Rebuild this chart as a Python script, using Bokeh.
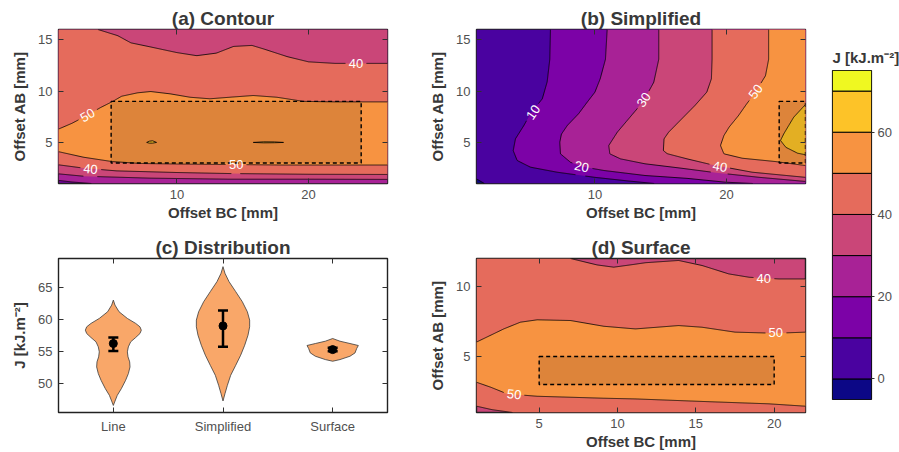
import numpy as np
from bokeh.core.properties import value
from bokeh.embed import file_html
from bokeh.layouts import column, row
from bokeh.models import (ColumnDataSource, CustomJSTickFormatter, FixedTicker, LinearAxis,
                          Range1d, TeeHead, Whisker)
from bokeh.palettes import Plasma9
from bokeh.plotting import figure
from bokeh.resources import INLINE

FONT = "Liberation Sans"
INK = "#383838"
TICK_INK = "#505050"

# J levels [kJ.m-2]; band k spans levels[k] .. levels[k + 1]
levels = [-5, 0, 10, 20, 30, 40, 50, 60, 70, 75]
band_colors = list(Plasma9)
cbar_ticks = [0, 20, 40, 60]

# ---------------- (a) Contour: level curves over Offset BC / Offset AB ----------------
a_c20_x = [1.0, 2.0, 3.5]
a_c20_y = [1.3, 1.15, 1.0]
a_c30_x = [1.0, 2.9, 8.0, 14.0, 20.0, 26.0]
a_c30_y = [1.94, 1.71, 1.52, 1.42, 1.42, 1.4]
a_c40_lo_x = [1.0, 2.9, 5.4, 10.0, 14.0, 20.0, 26.0]
a_c40_lo_y = [2.82, 2.5, 2.23, 2.07, 1.97, 1.9, 1.88]
a_c40_hi_x = [4.0, 5.5, 6.5, 8.0, 10.0, 11.5, 13.0, 14.3, 15.7, 16.6, 18.4, 20.0, 22.0, 26.0]
a_c40_hi_y = [16.0, 15.4, 14.7, 14.3, 13.75, 13.45, 13.7, 14.35, 14.45, 14.1, 13.35, 12.85, 12.7, 12.7]
a_c50_lo_x = [1.0, 2.9, 5.0, 7.2, 10.0, 14.0, 18.0, 22.0, 26.0]
a_c50_lo_y = [4.1, 3.56, 3.15, 2.95, 2.9, 2.85, 2.8, 2.8, 2.8]
a_c50_hi_x = [1.0, 2.0, 2.9, 4.2, 5.1, 5.8, 7.0, 8.0, 9.5, 11.0, 12.5, 14.0, 15.8, 17.6, 19.6, 22.0, 26.0]
a_c50_hi_y = [6.3, 6.85, 7.45, 8.4, 8.98, 9.5, 9.83, 9.96, 9.73, 9.4, 9.25, 9.4, 9.57, 9.4, 9.0, 8.95, 8.95]
a_c60_1_x = [7.7, 7.9, 8.15, 8.45, 8.15, 7.9, 7.7]
a_c60_1_y = [5.0, 5.12, 5.16, 5.0, 4.93, 4.93, 5.0]
a_c60_2_x = [15.8, 16.6, 17.4, 18.1, 17.4, 16.6, 15.8]
a_c60_2_y = [5.0, 5.06, 5.05, 5.0, 4.97, 4.96, 5.0]
a_box = [5, 24, 3, 9]  # left, right, bottom, top
a_lab_text = ["40", "50", "40", "50"]
a_lab_x = [23.6, 3.2, 3.43, 14.5]
a_lab_y = [12.7, 7.65, 2.42, 2.85]
a_lab_angle = [0, 30, -5, 0]

# ---------------- (b) Simplified ----------------
b_c0_x = [1.0, 1.6]
b_c0_y = [1.45, 1.0]
b_c10_x = [6.62, 6.57, 6.37, 6.0, 5.1, 4.6, 3.96, 3.79, 4.09, 5.1, 7.13, 9.99, 12.5, 14.5]
b_c10_y = [16.0, 13.1, 10.9, 9.25, 7.8, 6.65, 5.35, 4.2, 3.24, 2.59, 2.1, 1.6, 1.25, 1.0]
b_c20_x = [10.93, 10.8, 10.4, 10.0, 9.4, 8.76, 7.9, 7.45, 7.33, 7.38, 8.14, 9.0, 10.67, 13.8, 17.0, 19.9, 22.0]
b_c20_y = [16.0, 13.1, 11.2, 9.9, 8.9, 7.8, 6.65, 5.8, 5.02, 3.89, 3.07, 2.65, 2.27, 1.78, 1.5, 1.13, 1.0]
b_c30_x = [14.85, 14.85, 14.47, 13.84, 13.2, 11.7, 11.05, 11.13, 11.94, 13.8, 16.5, 19.2, 22.5, 26.0]
b_c30_y = [16.0, 13.1, 10.86, 9.4, 8.27, 6.0, 4.7, 3.89, 3.4, 2.92, 2.5, 2.05, 1.6, 1.2]
b_c40_x = [18.9, 18.9, 18.85, 18.5, 17.6, 16.6, 15.6, 15.25, 15.2, 15.5, 17.0, 18.9, 21.95, 26.0]
b_c40_y = [16.0, 13.1, 11.2, 9.9, 8.6, 7.3, 6.0, 5.35, 4.2, 3.9, 3.4, 2.82, 2.1, 1.6]
b_c50_x = [23.2, 23.2, 22.96, 22.2, 21.5, 20.9, 20.2, 19.8, 19.54, 19.8, 21.2, 23.7, 26.0]
b_c50_y = [16.0, 13.1, 11.5, 9.9, 8.7, 7.6, 6.5, 5.67, 4.7, 3.89, 3.46, 3.14, 2.75]
b_c60_x = [26.0, 25.1, 24.35, 24.1, 24.5, 25.4, 26.0]
b_c60_y = [8.7, 7.45, 5.84, 5.19, 4.53, 3.95, 3.8]
b_box = [24, 26, 3, 9]
b_lab_text = ["10", "20", "30", "40", "50"]
b_lab_x = [5.3, 9.0, 13.7, 19.5, 22.2]
b_lab_y = [7.95, 2.65, 9.15, 2.65, 9.95]
b_lab_angle = [55, -12, 57, -10, 54]

# ---------------- (c) Distribution ----------------
categories = ["Line", "Simplified", "Surface"]
line_j = [63.02, 62.24, 61.2, 60.16, 59.38, 58.85, 58.33, 57.81, 57.19, 56.51, 55.73, 54.95,
          54.17, 53.39, 52.6, 51.56, 50.52, 49.22, 48.18, 47.14, 46.6]
line_w = [0.0, 0.015, 0.052, 0.128, 0.204, 0.243, 0.255, 0.243, 0.204, 0.158, 0.137, 0.128,
          0.134, 0.149, 0.152, 0.137, 0.112, 0.073, 0.036, 0.012, 0.0]
simp_j = [68.23, 67.19, 65.89, 64.33, 62.77, 61.2, 59.9, 58.85, 57.55, 55.99, 54.43, 52.86,
          51.3, 49.74, 48.44, 47.3]
simp_w = [0.0, 0.018, 0.055, 0.116, 0.176, 0.222, 0.243, 0.243, 0.228, 0.198, 0.161, 0.116,
          0.07, 0.04, 0.018, 0.0]
surf_j = [57.03, 56.61, 56.25, 55.94, 55.47, 54.79, 54.27, 53.75, 53.49]
surf_w = [0.0, 0.067, 0.158, 0.234, 0.219, 0.204, 0.158, 0.067, 0.0]
j_mean = [56.25, 59.0, 55.3]
j_low = [55.1, 55.75, 55.05]
j_high = [57.2, 61.4, 55.6]

# ---------------- (d) Surface ----------------
d_c40_lo_x = [1.0, 2.0, 3.3]
d_c40_lo_y = [1.45, 1.2, 1.0]
d_c40_hi_x = [7.0, 8.7, 9.76, 10.8, 11.8, 13.9, 15.4, 17.1, 18.4, 20.3, 22.0]
d_c40_hi_y = [12.0, 11.54, 11.38, 11.54, 11.7, 11.86, 11.5, 10.9, 10.66, 10.54, 10.54]
d_c50_lo_x = [1.0, 1.9, 2.96, 4.87, 7.0, 9.1, 11.15, 15.4, 19.65, 22.0]
d_c50_lo_y = [3.16, 2.81, 2.33, 2.16, 2.09, 2.02, 1.97, 1.79, 1.62, 1.45]
d_c50_hi_x = [1.0, 2.74, 3.8, 4.87, 7.0, 9.12, 10.6, 11.15, 13.9, 15.4, 17.5, 20.1, 22.0]
d_c50_hi_y = [6.03, 6.97, 7.45, 7.62, 7.57, 7.16, 7.02, 6.97, 7.21, 7.09, 6.74, 6.66, 6.74]
d_box = [5, 20, 3, 5]
d_lab_text = ["40", "50", "50"]
d_lab_x = [19.33, 20.1, 3.4]
d_lab_y = [10.55, 6.7, 2.3]
d_lab_angle = [0, 0, -6]


def band(lo):
    return band_colors[levels.index(lo)]


def style_axis(ax, ticks, label=None, mirror=False):
    ax.ticker = FixedTicker(ticks=ticks)
    ax.axis_line_color = None
    ax.major_tick_in = 5
    ax.major_tick_out = 0
    ax.major_tick_line_color = "#303030"
    ax.major_tick_line_width = 1
    ax.minor_tick_line_color = None
    if mirror:
        # tick marks only on the opposite frame edges
        ax.formatter = CustomJSTickFormatter(code="return ''")
        ax.major_label_standoff = 0
        return
    ax.major_label_text_font = FONT
    ax.major_label_text_font_size = "13px"
    ax.major_label_text_color = TICK_INK
    ax.major_label_standoff = 6
    if label:
        ax.axis_label = label
        ax.axis_label_text_font = FONT
        ax.axis_label_text_font_size = "15px"
        ax.axis_label_text_font_style = "bold"
        ax.axis_label_text_color = INK


def framed(title, xr, yr, xticks, yticks, xlabel, ylabel, width, height, borders):
    p = figure(width=width, height=height, x_range=Range1d(*xr), y_range=Range1d(*yr),
               output_backend="svg", toolbar_location=None, title=title,
               min_border_left=borders[0], min_border_right=borders[1],
               min_border_top=borders[2], min_border_bottom=borders[3])
    p.title.text_font = FONT
    p.title.text_font_size = "19px"
    p.title.text_font_style = "bold"
    p.title.text_color = INK
    p.title.align = "center"
    p.title.standoff = 1
    p.grid.visible = False
    p.outline_line_color = "#222222"
    p.outline_line_width = 1.4
    p.outline_line_alpha = 1.0
    style_axis(p.below[0], xticks, xlabel)
    style_axis(p.left[0], yticks, ylabel)
    p.below[0].axis_label_standoff = 2
    p.left[0].axis_label_standoff = 7
    top = LinearAxis()
    style_axis(top, xticks, mirror=True)
    p.add_layout(top, "above")
    right = LinearAxis()
    style_axis(right, yticks, mirror=True)
    p.add_layout(right, "right")
    return p


def with_gaps(xs, ys, sx, sy, lab_x, lab_y, r=10.0):
    """Polyline resampled every pixel, broken where an inline label sits."""
    xs = np.asarray(xs, float)
    ys = np.asarray(ys, float)
    step = np.hypot(np.diff(xs) * sx, np.diff(ys) * sy)
    s = np.concatenate([[0.0], np.cumsum(step)])
    t = np.linspace(0.0, s[-1], max(int(s[-1]), 1) + 1)
    px = np.interp(t, s, xs)
    py = np.interp(t, s, ys)
    far = np.ones(len(t), bool)
    for lx, ly in zip(lab_x, lab_y):
        far &= np.hypot((px - lx) * sx, (py - ly) * sy) > r
    px[~far] = np.nan
    py[~far] = np.nan
    return px, py


def draw_contours(p, base, fills, curves, closed, labels, box, sx, sy):
    p.background_fill_color = base
    p.patches(xs=[f[0] for f in fills], ys=[f[1] for f in fills],
              fill_color=[f[2] for f in fills], line_color=None)
    lab_text, lab_x, lab_y, lab_angle = labels
    for cx, cy in curves:
        gx, gy = with_gaps(cx, cy, sx, sy, lab_x, lab_y)
        p.line(gx, gy, line_color="black", line_width=0.8)
    for cx, cy in closed:
        p.line(cx, cy, line_color="black", line_width=0.8)
    p.quad(left=[box[0]], right=[box[1]], bottom=[box[2]], top=[box[3]],
           fill_color="black", fill_alpha=0.1, line_color="black",
           line_width=1.4, line_dash="4 3")
    p.text(x=lab_x, y=lab_y, text=lab_text, angle=lab_angle, angle_units="deg",
           text_font=value(FONT), text_font_size="13px", text_color="white",
           text_align="center", text_baseline="middle")


FW, FH = 329, 154

# (a)
pa = framed("(a) Contour", (1, 26), (1, 16), [10, 20], [5, 10, 15],
            "Offset BC [mm]", "Offset AB [mm]", 420, 230, (58, 33, 29, 47))
a_fills = [
    (a_c20_x + [26, 26, 1], a_c20_y + [1, 16, 16], band(20)),
    (a_c30_x + [26, 1], a_c30_y + [16, 16], band(30)),
    ([1] + a_c40_hi_x + a_c40_lo_x[::-1], [16] + a_c40_hi_y + a_c40_lo_y[::-1], band(40)),
    (a_c50_hi_x + a_c50_lo_x[::-1], a_c50_hi_y + a_c50_lo_y[::-1], band(50)),
    (a_c60_1_x, a_c60_1_y, band(60)),
    (a_c60_2_x, a_c60_2_y, band(60)),
]
draw_contours(pa, band(10), a_fills,
              [(a_c20_x, a_c20_y), (a_c30_x, a_c30_y), (a_c40_lo_x, a_c40_lo_y),
               (a_c40_hi_x, a_c40_hi_y), (a_c50_lo_x, a_c50_lo_y), (a_c50_hi_x, a_c50_hi_y)],
              [(a_c60_1_x, a_c60_1_y), (a_c60_2_x, a_c60_2_y)],
              (a_lab_text, a_lab_x, a_lab_y, a_lab_angle), a_box, FW / 25, FH / 15)

# (b)
pb = framed("(b) Simplified", (1, 26), (1, 16), [10, 20], [5, 10, 15],
            "Offset BC [mm]", "Offset AB [mm]", 400, 230, (56, 15, 29, 47))
b_fills = [
    (b_c0_x + [26, 26, 1], b_c0_y + [1, 16, 16], band(0)),
    (b_c10_x + [26, 26], b_c10_y + [1, 16], band(10)),
    (b_c20_x + [26, 26], b_c20_y + [1, 16], band(20)),
    (b_c30_x + [26], b_c30_y + [16], band(30)),
    (b_c40_x + [26], b_c40_y + [16], band(40)),
    (b_c50_x + [26], b_c50_y + [16], band(50)),
    (b_c60_x, b_c60_y, band(60)),
]
draw_contours(pb, band(-5), b_fills,
              [(b_c0_x, b_c0_y), (b_c10_x, b_c10_y), (b_c20_x, b_c20_y), (b_c30_x, b_c30_y),
               (b_c40_x, b_c40_y), (b_c50_x, b_c50_y), (b_c60_x, b_c60_y)],
              [], (b_lab_text, b_lab_x, b_lab_y, b_lab_angle), b_box, FW / 25, FH / 15)

# (c)
pc = framed("(c) Distribution", (-0.5, 2.5), (45.5, 69.5), list(range(len(categories))),
            [50, 55, 60, 65], None, "J [kJ.m\u207b\u00b2]", 420, 222, (58, 33, 28, 40))
pc.below[0].formatter = CustomJSTickFormatter(args=dict(names=categories),
                                              code="return names[Math.round(tick)] ?? ''")
pc.background_fill_color = "white"
profiles = [(line_j, line_w), (simp_j, simp_w), (surf_j, surf_w)]
vx, vy = [], []
for i, (jj, ww) in enumerate(profiles):
    jj = np.asarray(jj)
    ww = np.asarray(ww)
    vx.append(np.concatenate([i + ww, (i - ww)[::-1]]))
    vy.append(np.concatenate([jj, jj[::-1]]))
pc.patches(xs=vx, ys=vy, fill_color="#F79143", fill_alpha=0.8,
           line_color="#3a3a3a", line_width=0.8)
err = ColumnDataSource(dict(x=list(range(len(categories))), mean=j_mean, lower=j_low, upper=j_high))
pc.add_layout(Whisker(source=err, base="x", lower="lower", upper="upper", dimension="height",
                      level="overlay", line_color="black", line_width=2.5,
                      upper_head=TeeHead(size=10, line_width=2.5, line_color="black"),
                      lower_head=TeeHead(size=10, line_width=2.5, line_color="black")))
pc.scatter("x", "mean", source=err, size=8, color="black")

# (d)
pd_ = framed("(d) Surface", (1, 22), (1, 12), [5, 10, 15, 20], [5, 10],
             "Offset BC [mm]", "Offset AB [mm]", 400, 222, (56, 15, 28, 40))
d_fills = [
    ([1] + d_c40_hi_x + [22] + d_c40_lo_x[::-1], [12] + d_c40_hi_y + [1] + d_c40_lo_y[::-1], band(40)),
    (d_c50_hi_x + d_c50_lo_x[::-1], d_c50_hi_y + d_c50_lo_y[::-1], band(50)),
]
draw_contours(pd_, band(30), d_fills,
              [(d_c40_lo_x, d_c40_lo_y), (d_c40_hi_x, d_c40_hi_y),
               (d_c50_lo_x, d_c50_lo_y), (d_c50_hi_x, d_c50_hi_y)],
              [], (d_lab_text, d_lab_x, d_lab_y, d_lab_angle), d_box, FW / 21, FH / 11)

# colour bar
cb = figure(width=79, height=452, x_range=Range1d(0, 1), y_range=Range1d(levels[0], levels[-1]),
            output_backend="svg", toolbar_location=None, title="J [kJ.m\u207b\u00b2]",
            x_axis_location=None, y_axis_location="right",
            min_border_left=12, min_border_right=28, min_border_top=70, min_border_bottom=53)
cb.title.text_font = FONT
cb.title.text_font_size = "15px"
cb.title.text_font_style = "bold"
cb.title.text_color = INK
cb.title.align = "left"
cb.title.standoff = 9
cb.grid.visible = False
cb.outline_line_color = "#222222"
cb.outline_line_width = 1.2
cb.quad(left=0, right=1, bottom=levels[:-1], top=levels[1:], fill_color=band_colors,
        line_color="black", line_width=1)
cax = cb.yaxis[0]
cax.ticker = FixedTicker(ticks=cbar_ticks)
cax.axis_line_color = None
cax.major_tick_in = 0
cax.major_tick_out = 3
cax.major_tick_line_color = "#303030"
cax.minor_tick_line_color = None
cax.major_label_text_font = FONT
cax.major_label_text_font_size = "13px"
cax.major_label_text_color = TICK_INK
cax.major_label_standoff = 3

layout = row(column(row(pa, pb), row(pc, pd_)), cb)
open("out.html", "w").write(file_html(layout, INLINE, title="J maps"))
